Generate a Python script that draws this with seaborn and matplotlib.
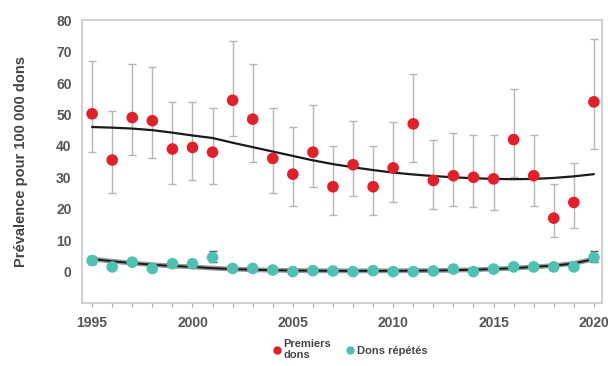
import numpy as np
import pandas as pd
import seaborn as sns
import matplotlib.pyplot as plt
from matplotlib.lines import Line2D

years = list(range(1995, 2021))

# premiers dons (first-time donors)
premiers = [50.2, 35.5, 49, 48, 39, 39.5, 38, 54.5, 48.5, 36, 31, 38, 27, 34, 27, 33,
            47, 29, 30.5, 30, 29.5, 42, 30.5, 17, 22, 54]
premiers_hi = [67, 51, 66, 65, 54, 54, 52, 73.5, 66, 52, 46, 53, 40, 48, 40, 47.5,
               63, 42, 44, 43.5, 43.5, 58, 43.5, 28, 34.5, 74]
premiers_lo = [38, 25, 37, 36, 28, 29, 28, 43, 35, 25, 21, 27, 18, 24, 18, 22,
               35, 20, 21, 20.5, 19.5, 30, 21, 11, 14, 39]
premiers_trend = [46, 45.8, 45.5, 45, 44.2, 43.3, 42.5, 41, 39.6, 38.2, 36.8, 35.4, 34.2,
                  33.2, 32.3, 31.5, 30.9, 30.4, 30, 29.7, 29.5, 29.4, 29.5, 29.8, 30.3, 31]

# dons répétés (repeat donors)
repetes = [3.5, 1.5, 3, 1, 2.5, 2.5, 4.5, 1, 1, 0.5, 0, 0.3, 0.2, 0, 0.3, 0,
           0, 0.2, 0.8, 0, 0.8, 1.5, 1.5, 1.5, 1.5, 4.5]
repetes_hi = [5, 2.5, 4, 2, 3.5, 3.5, 6.5, 1.8, 1.8, 1.2, 0.8, 1, 0.8, 0.6, 0.9, 0.6,
              0.6, 0.8, 1.5, 0.6, 1.5, 2.5, 2.5, 2.5, 2.5, 6.5]
repetes_lo = [2.5, 0.8, 2, 0.3, 1.5, 1.5, 3, 0.4, 0.4, 0, 0, 0, 0, 0, 0, 0,
              0, 0, 0.2, 0, 0.2, 0.8, 0.8, 0.8, 0.8, 3]
repetes_trend = [4, 3.3, 2.7, 2.2, 1.8, 1.5, 1.1, 0.8, 0.6, 0.45, 0.35, 0.3, 0.25,
                 0.25, 0.25, 0.25, 0.3, 0.35, 0.45, 0.6, 0.8, 1.1, 1.5, 1.9, 2.6, 4]

df = pd.DataFrame({"annee": years, "premiers": premiers, "repetes": repetes,
                   "premiers_trend": premiers_trend, "repetes_trend": repetes_trend})

sns.set_style("white")
plt.rcParams['font.family'] = ['Liberation Sans', 'DejaVu Sans']

red = "#e3202a"
teal = "#4cc2b0"
grey = "#555555"

fig = plt.figure(figsize=(6.08, 3.66), dpi=100)
ax = fig.add_axes([0.135, 0.172, 0.855, 0.773])

# error bars
ax.errorbar(years, premiers,
            yerr=[np.array(premiers) - np.array(premiers_lo), np.array(premiers_hi) - np.array(premiers)],
            fmt="none", ecolor="#b5b5b5", elinewidth=1, capsize=3, capthick=1, zorder=1)
ax.errorbar(years, repetes,
            yerr=[np.array(repetes) - np.array(repetes_lo), np.array(repetes_hi) - np.array(repetes)],
            fmt="none", ecolor="#555555", elinewidth=1, capsize=3, capthick=1, zorder=1)

# trend lines (grey halo under the repeat-donor curve)
sns.lineplot(data=df, x="annee", y="repetes_trend", color="#9a9a9a", linewidth=3.5, ax=ax, zorder=2)
sns.lineplot(data=df, x="annee", y="premiers_trend", color="#1a1a1a", linewidth=1.6, ax=ax, zorder=3)
sns.lineplot(data=df, x="annee", y="repetes_trend", color="#1a1a1a", linewidth=1.4, ax=ax, zorder=3)

# points
sns.scatterplot(data=df, x="annee", y="premiers", color=red, s=70, edgecolor="none", ax=ax, zorder=4)
sns.scatterplot(data=df, x="annee", y="repetes", color=teal, s=70, edgecolor="none", ax=ax, zorder=4)

ax.set_xlim(1994.5, 2020.4)
ax.set_ylim(-10, 80)
ax.set_yticks(range(0, 81, 10))
ax.set_xticks(years, minor=True)
ax.set_xticks([1995, 2000, 2005, 2010, 2015, 2020])
ax.tick_params(axis="x", which="both", bottom=True, length=3, color="#aaaaaa", width=0.8)
ax.tick_params(axis="both", labelsize=10, labelcolor=grey, pad=4)
for lab in ax.get_xticklabels() + ax.get_yticklabels():
    lab.set_fontweight("bold")
ax.tick_params(axis="x", pad=6)

for sp in ax.spines.values():
    sp.set_color("#c8c8c8")
    sp.set_linewidth(1.2)

ax.set_xlabel("")
ax.set_ylabel("Prévalence pour 100 000 dons", fontsize=10.5, fontweight="bold", color="#444444", labelpad=20)

handles = [Line2D([], [], marker="o", linestyle="none", color=red, markersize=5),
           Line2D([], [], marker="o", linestyle="none", color=teal, markersize=5)]
fig.legend(handles, ["Premiers\ndons", "Dons répétés"], loc="center", bbox_to_anchor=(0.575, 0.045),
           ncol=2, frameon=False, handletextpad=0.1, columnspacing=1.2, handlelength=1,
           prop={"size": 8, "weight": "bold"}, labelcolor="#444444")

fig.savefig("out.png", dpi=100)
